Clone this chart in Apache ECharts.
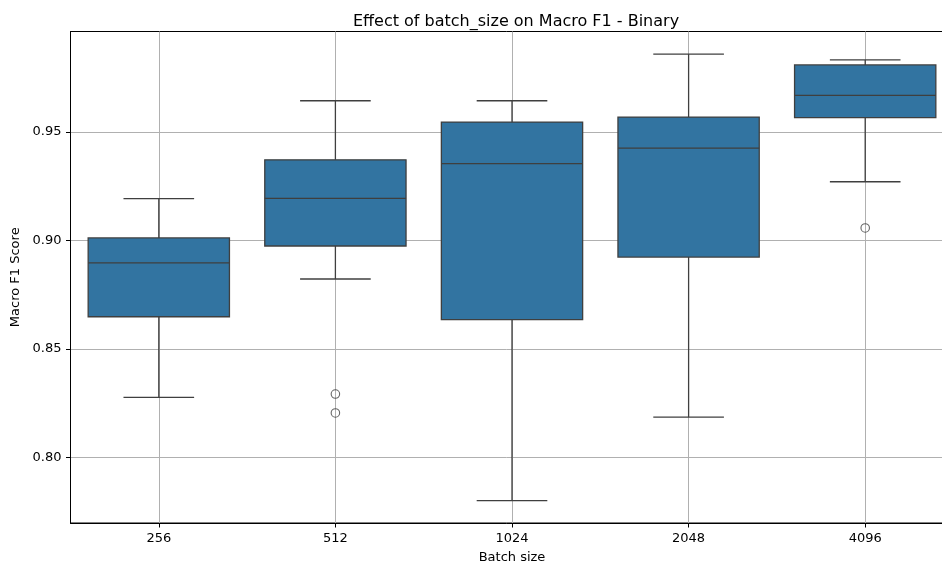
<!DOCTYPE html>
<html>
<head>
<meta charset="utf-8">
<script src="https://cdn.jsdelivr.net/npm/echarts@6/dist/echarts.min.js"></script>
<style>html,body{margin:0;padding:0;background:#fff;overflow:hidden}#c{width:942px;height:565px}</style>
</head>
<body>
<div id="c"></div>
<script>
// Data
const categories = ['256', '512', '1024', '2048', '4096'];
const whiskerLow  = [0.8278, 0.8823, 0.7802, 0.8187, 0.9271];
const q1          = [0.8649, 0.8975, 0.8636, 0.8924, 0.9566];
const median      = [0.8897, 0.9194, 0.9354, 0.9426, 0.9669];
const q3          = [0.9012, 0.9372, 0.9546, 0.9569, 0.9809];
const whiskerHigh = [0.9193, 0.9644, 0.9644, 0.9859, 0.9832];
const outlierCategory = ['512', '512', '4096'];
const outlierValue    = [0.8293, 0.8206, 0.9058];
const yTicks = [0.80, 0.85, 0.90, 0.95];

const boxData = categories.map((c, i) => [i, whiskerLow[i], q1[i], median[i], q3[i], whiskerHigh[i]]);
const outlierData = outlierCategory.map((c, i) => [categories.indexOf(c), outlierValue[i]]);

const FILL = '#3274a1';
const EDGE = '#3f3f3f';
const LW = 1.3;
const FONT = 'DejaVu Sans';

function renderBox(params, api) {
  const x = api.value(0);
  const band = api.size([1, 0])[0];
  const boxW = band * 0.8, capW = band * 0.4;
  const pLow = api.coord([x, api.value(1)]);
  const pQ1 = api.coord([x, api.value(2)]);
  const pMed = api.coord([x, api.value(3)]);
  const pQ3 = api.coord([x, api.value(4)]);
  const pHigh = api.coord([x, api.value(5)]);
  const cx = pMed[0];
  const ls = { stroke: EDGE, lineWidth: LW, fill: null };
  return {
    type: 'group',
    children: [
      { type: 'line', shape: { x1: cx, y1: pQ1[1], x2: cx, y2: pLow[1] }, style: ls },
      { type: 'line', shape: { x1: cx, y1: pQ3[1], x2: cx, y2: pHigh[1] }, style: ls },
      { type: 'line', shape: { x1: cx - capW / 2, y1: pLow[1], x2: cx + capW / 2, y2: pLow[1] }, style: ls },
      { type: 'line', shape: { x1: cx - capW / 2, y1: pHigh[1], x2: cx + capW / 2, y2: pHigh[1] }, style: ls },
      { type: 'rect', shape: { x: cx - boxW / 2, y: pQ3[1], width: boxW, height: pQ1[1] - pQ3[1] },
        style: { fill: FILL, stroke: EDGE, lineWidth: LW } },
      { type: 'line', shape: { x1: cx - boxW / 2, y1: pMed[1], x2: cx + boxW / 2, y2: pMed[1] }, style: ls }
    ]
  };
}

const chart = echarts.init(document.getElementById('c'), null, { renderer: 'canvas' });
chart.setOption({
  animation: false,
  backgroundColor: '#fff',
  title: {
    text: 'Effect of batch_size on Macro F1 - Binary',
    left: 511, top: 9, textAlign: 'center',
    textStyle: { fontFamily: FONT, fontSize: 16, fontWeight: 'normal', color: '#000' }
  },
  grid: {
    left: 70.5, width: 883, top: 31.5, height: 491.5,
    outerBoundsMode: 'none', containLabel: false,
    show: true, borderColor: '#000', borderWidth: 1, backgroundColor: 'transparent'
  },
  xAxis: {
    type: 'category',
    data: categories,
    name: 'Batch size', nameLocation: 'middle', nameGap: 28,
    nameTextStyle: { fontFamily: FONT, fontSize: 13, color: '#000' },
    axisLine: { show: true, lineStyle: { color: '#000', width: 1 } },
    axisTick: { show: true, alignWithLabel: true, length: 4.5, lineStyle: { color: '#000' } },
    axisLabel: { margin: 9.5, fontFamily: FONT, fontSize: 13, color: '#000' },
    splitLine: { show: true, alignWithLabel: true, lineStyle: { color: '#b0b0b0', width: 1 } }
  },
  yAxis: {
    type: 'value',
    min: 0.7699, max: 0.9963,
    name: 'Macro F1 Score', nameLocation: 'middle', nameGap: 46,
    nameTextStyle: { fontFamily: FONT, fontSize: 13, color: '#000' },
    axisLine: { show: true, lineStyle: { color: '#000', width: 1 } },
    axisTick: { show: true, length: 4.5, customValues: yTicks, lineStyle: { color: '#000' } },
    axisLabel: { margin: 9, fontFamily: FONT, fontSize: 13, color: '#000', customValues: yTicks,
      formatter: v => v.toFixed(2) },
    splitLine: { show: true, lineStyle: { color: '#b0b0b0', width: 1 } }
  },
  series: [
    { type: 'custom', renderItem: renderBox, data: boxData, encode: { x: 0, y: [1, 2, 3, 4, 5] }, z: 3 },
    { type: 'scatter', data: outlierData, symbol: 'circle', symbolSize: 8.5, z: 4,
      itemStyle: { color: 'transparent', borderColor: EDGE, borderWidth: 1.1 } }
  ]
});
</script>
</body>
</html>
